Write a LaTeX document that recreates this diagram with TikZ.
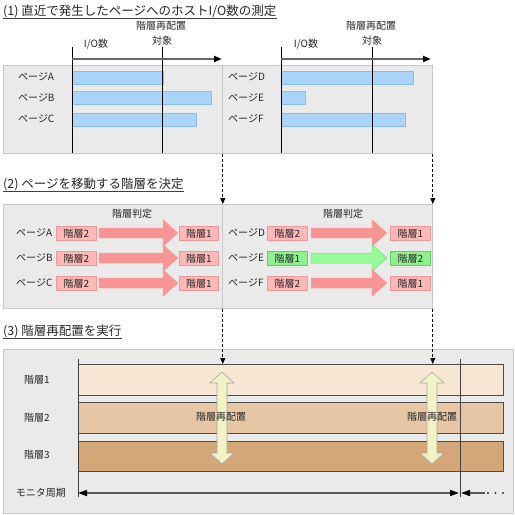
\documentclass[tikz,border=0pt]{standalone}
\usepackage{fontspec}
\setmainfont{Noto Sans CJK JP}
\usetikzlibrary{arrows.meta}
\definecolor{panelfill}{HTML}{EAEAEA}
\definecolor{panelline}{HTML}{C8C8C8}
\definecolor{barfill}{HTML}{AAD4FA}
\definecolor{barline}{HTML}{88BCEF}
\definecolor{redfill}{HTML}{FFB8B8}
\definecolor{redline}{HTML}{F09898}
\definecolor{redarrow}{HTML}{F99494}
\definecolor{greenfill}{HTML}{90F090}
\definecolor{greenline}{HTML}{60D060}
\definecolor{greenarrow}{HTML}{98FA98}
\definecolor{tierA}{HTML}{F8E6D4}
\definecolor{tierB}{HTML}{E7C6A6}
\definecolor{tierC}{HTML}{D4A678}
\definecolor{yarrow}{HTML}{F2F2C6}
\definecolor{textc}{HTML}{262626}
\newcommand\boxat[7]{\node[#1, minimum width={#5-#3}, minimum height={#6-#4}, anchor=north west, inner sep=0pt] (#2) at (#3,#4) {#7};}
\newcommand\harrow[4]{\draw[#1] (#2,#4-5) -- (#3-15,#4-5) -- (#3-15,#4-13.5) -- (#3,#4) -- (#3-15,#4+13.5) -- (#3-15,#4+5) -- (#2,#4+5) -- cycle;}
\newcommand\vdarrow[3]{\draw[yel] (#1,#2) -- (#1+12,#2+11) -- (#1+5,#2+11) -- (#1+5,#3-11) -- (#1+12,#3-11) -- (#1,#3) -- (#1-12,#3-11) -- (#1-5,#3-11) -- (#1-5,#2+11) -- (#1-12,#2+11) -- cycle;}
\begin{document}
\begin{tikzpicture}[x=1pt,y=-1pt,
  font=\fontsize{10}{12}\selectfont, text=textc,
  panel/.style={draw=panelline, fill=panelfill, line width=0.8pt},
  bar/.style={draw=barline, fill=barfill, line width=0.6pt},
  redbox/.style={draw=redline, fill=redfill, line width=0.7pt},
  greenbox/.style={draw=greenline, fill=greenfill, line width=0.7pt},
  tier/.style={draw=black!70, line width=1pt},
  redarr/.style={fill=redarrow, draw=redarrow!85!white, line width=0.4pt},
  greenarr/.style={fill=greenarrow, draw=greenline!80!white, line width=0.5pt},
  yel/.style={fill=yarrow, draw=black!35, line width=0.6pt},
  title/.style={font=\fontsize{12.5}{14}\selectfont, text=black!85, anchor=base west, inner sep=0pt},
  uline/.style={draw=black!75, line width=0.8pt},
  axisline/.style={draw=black, line width=1pt},
  ioarrow/.style={draw=black!60, line width=2pt, -{Triangle[length=8pt,width=6pt,color=black]}},
  dasharr/.style={draw=black, line width=0.8pt, dash pattern=on 3pt off 2pt, -{Triangle[length=6pt,width=5pt]}},
  monline/.style={draw=black!65, line width=1.6pt},
  lbl/.style={anchor=west, inner sep=0pt},
]
\useasboundingbox (0,0) rectangle (515,515);

% ---------- (1) ----------
\node[title] (T1) at (3,15) {(1) 直近で発生したページへのホストI/O数の測定};
\draw[uline] ([yshift=-3pt]T1.base west) -- ([yshift=-3pt]T1.base east);

\boxat{panel}{p1L}{3}{65}{222}{153}{}
\boxat{panel}{p1R}{222}{65}{432}{153}{}

\node (io1) at (96,44) {I/O数};
\node (ta1) at (161,26) {階層再配置};
\node (tb1) at (162,41) {対象};
\node (io2) at (306,44) {I/O数};
\node (ta2) at (371,26) {階層再配置};
\node (tb2) at (372,41) {対象};

\node[lbl] (lA) at (18,77) {ページA};
\node[lbl] (lB) at (18,98) {ページB};
\node[lbl] (lC) at (18,119) {ページC};
\node[lbl] (lD) at (228,77) {ページD};
\node[lbl] (lE) at (228,98) {ページE};
\node[lbl] (lF) at (228,119) {ページF};

\boxat{bar}{bA}{72}{70.5}{163}{83.5}{}
\boxat{bar}{bB}{72}{91}{211}{104}{}
\boxat{bar}{bC}{72}{112.5}{196}{125.5}{}
\boxat{bar}{bD}{281}{70.5}{413}{83.5}{}
\boxat{bar}{bE}{281}{91}{305}{104}{}
\boxat{bar}{bF}{281}{112.5}{405}{125.5}{}

\draw[axisline] (72,47) -- (72,153);
\draw[axisline] (162,47) -- (162,153);
\draw[ioarrow] (72,59) -- (222,59);
\draw[axisline] (281,47) -- (281,153);
\draw[axisline] (372,47) -- (372,153);
\draw[ioarrow] (281,59) -- (431,59);

% ---------- (2) ----------
\node[title] (T2) at (3,188.5) {(2) ページを移動する階層を決定};
\draw[uline] ([yshift=-3pt]T2.base west) -- ([yshift=-3pt]T2.base east);

\boxat{panel}{p2L}{3}{204}{222}{308}{}
\boxat{panel}{p2R}{222}{204}{432}{308}{}

\node (j1) at (132,214) {階層判定};
\node (j2) at (343,214) {階層判定};

\node[lbl] (mA) at (16,233) {ページA};
\node[lbl] (mB) at (16,258) {ページB};
\node[lbl] (mC) at (16,283) {ページC};
\node[lbl] (mD) at (228,233) {ページD};
\node[lbl] (mE) at (228,258) {ページE};
\node[lbl] (mF) at (228,283) {ページF};

\boxat{redbox}{sA}{56}{226}{96}{240}{階層2}
\boxat{redbox}{sB}{56}{251}{96}{265}{階層2}
\boxat{redbox}{sC}{56}{276}{96}{290}{階層2}
\boxat{redbox}{dA}{179}{226}{218}{240}{階層1}
\boxat{redbox}{dB}{179}{251}{218}{265}{階層1}
\boxat{redbox}{dC}{179}{276}{218}{290}{階層1}
\boxat{redbox}{sD}{267}{226}{307}{240}{階層2}
\boxat{greenbox}{sE}{267}{251}{307}{265}{階層1}
\boxat{redbox}{sF}{267}{276}{307}{290}{階層2}
\boxat{redbox}{dD}{390}{226}{430}{240}{階層1}
\boxat{greenbox}{dE}{390}{251}{430}{265}{階層2}
\boxat{redbox}{dF}{390}{276}{430}{290}{階層1}

\harrow{redarr}{99}{178}{233}
\harrow{redarr}{99}{178}{258}
\harrow{redarr}{99}{178}{283}
\harrow{redarr}{311}{387}{233}
\harrow{greenarr}{311}{387}{258}
\harrow{redarr}{311}{387}{283}

% ---------- (3) ----------
\node[title] (T3) at (3,335.5) {(3) 階層再配置を実行};
\draw[uline] ([yshift=-3pt]T3.base west) -- ([yshift=-3pt]T3.base east);

\boxat{panel}{p3}{3}{349}{513}{513}{}
\boxat{tier, fill=tierA}{t1}{78}{364}{503}{395}{}
\boxat{tier, fill=tierB}{t2}{78}{402}{503}{433}{}
\boxat{tier, fill=tierC}{t3}{78}{441}{503}{471}{}

\node (k1) at (37,380) {階層1};
\node (k2) at (37,418) {階層2};
\node (k3) at (37,455) {階層3};
\node (mon) at (41,493) {モニタ周期};

\coordinate (vL1) at (78,359);
\coordinate (vL2) at (78,497);
\coordinate (vR1) at (460,359);
\coordinate (vR2) at (460,497);
\draw[draw=black!75, line width=1pt] (vL1) -- (vL2);
\draw[draw=black!75, line width=1pt] (vR1) -- (vR2);

\coordinate (mL) at (78,493);
\coordinate (mR) at (459,493);
\coordinate (mR2) at (461,493);
\coordinate (mE) at (485,493);
\draw[monline, {Triangle[length=9pt,width=6pt,color=black]}-{Triangle[length=9pt,width=6pt,color=black]}] (mL) -- (mR);
\draw[monline, {Triangle[length=9pt,width=6pt,color=black]}-] (mR2) -- (mE);
\fill[black!80] (488,493) circle (1.1pt) (495.5,493) circle (1.1pt) (503,493) circle (1.1pt);

\vdarrow{222}{372}{464}
\vdarrow{432}{372}{464}
\node (r1) at (221,417) {階層再配置};
\node (r2) at (432,417) {階層再配置};

% dashed connectors
\draw[dasharr] (p1L.south east) -- (p2L.north east);
\draw[dasharr] (p1R.south east) -- (p2R.north east);
\draw[dasharr] (p2L.south east) -- (t1.north -| p2L.east);
\draw[dasharr] (p2R.south east) -- (t1.north -| p2R.east);
\end{tikzpicture}
\end{document}
